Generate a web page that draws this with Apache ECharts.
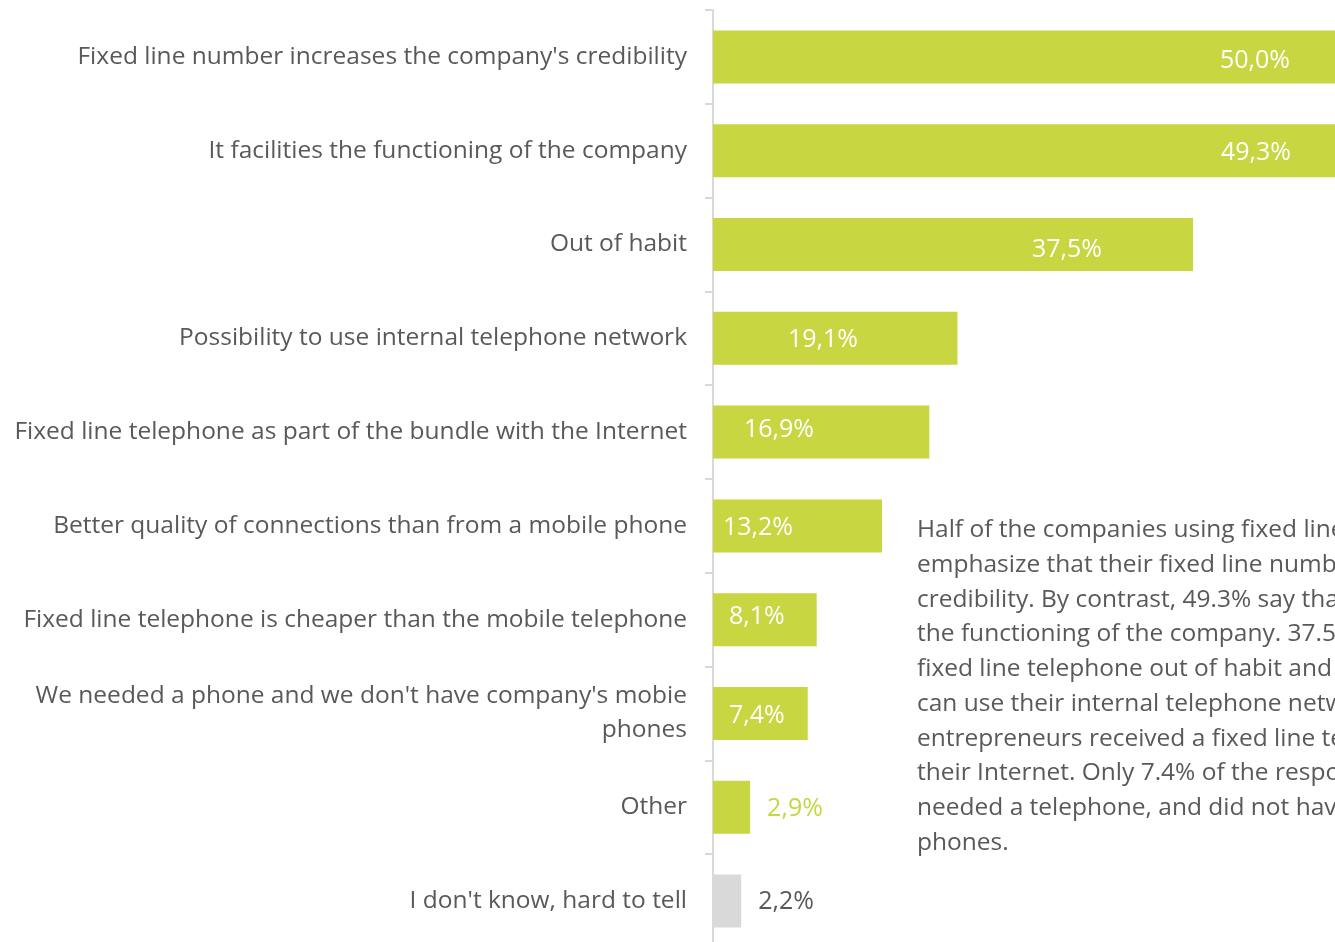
<!DOCTYPE html>
<html>
<head>
<meta charset="utf-8">
<script src="https://cdn.jsdelivr.net/npm/echarts@6/dist/echarts.min.js"></script>
<style>
  html, body { margin: 0; padding: 0; background: #fff; overflow: hidden; }
  /* the plot runs a little past the window on the right and bottom */
  #chart { width: 1353px; height: 948px; }
</style>
</head>
<body>
<div id="chart"></div>
<script>
// Reasons for keeping a fixed line telephone (share of companies, %)
const categories = [
  "Fixed line number increases the company's credibility",
  "It facilities the functioning of the company",
  "Out of habit",
  "Possibility to use internal telephone network",
  "Fixed line telephone as part of the bundle with the Internet",
  "Better quality of connections than from a mobile phone",
  "Fixed line telephone is cheaper than the mobile telephone",
  "We needed a phone and we don't have company's mobie\nphones",
  "Other",
  "I don't know, hard to tell"
];
const values = [50.0, 49.3, 37.5, 19.1, 16.9, 13.2, 8.1, 7.4, 2.9, 2.2];

const commentLines = [
  "Half of the companies using fixed line telephones",
  "emphasize that their fixed line number increases their",
  "credibility. By contrast, 49.3% say that it facilitates",
  "the functioning of the company. 37.5% use a",
  "fixed line telephone out of habit and 19.1% because they",
  "can use their internal telephone network. 16.9% of",
  "entrepreneurs received a fixed line telephone as part of",
  "their Internet. Only 7.4% of the respondents said they",
  "needed a telephone, and did not have company's mobile",
  "phones."
];

const GREEN = '#c8d642';
const GREY_BAR = '#d9d9d9';
const TEXT = '#595959';
const FONT = '"Open Sans", sans-serif';

// label placement per bar: [dx, dy] from the bar start; 'out' = beside the bar end
const labelPlacement = [
  [507, 4], [508, 2], [319, 5], [75, 2], [31, -2],
  [10, 2], [16, -3], [16, 2], 'out', 'out'
];

const fmt = v => v.toFixed(1).replace('.', ',') + '%';

const seriesData = values.map((v, i) => {
  const isUnknown = i === values.length - 1;
  const p = labelPlacement[i];
  let label;
  if (p === 'out') {
    label = {
      position: 'right', distance: 17, offset: [0, isUnknown ? 1 : 2],
      color: isUnknown ? TEXT : GREEN
    };
  } else {
    label = { position: 'insideLeft', distance: 0, offset: p, color: '#ffffff' };
  }
  return {
    value: v,
    itemStyle: { color: isUnknown ? GREY_BAR : GREEN },
    label: label
  };
});

const chart = echarts.init(document.getElementById('chart'), null, { renderer: 'canvas' });
chart.setOption({
  animation: false,
  backgroundColor: '#ffffff',
  grid: { left: 713, top: 10, right: 0, bottom: 0, containLabel: false },
  xAxis: {
    type: 'value', min: 0, max: 50,
    show: false
  },
  yAxis: {
    type: 'category',
    inverse: true,
    data: categories,
    axisLine: { show: true, lineStyle: { color: '#d9d9d9', width: 2 } },
    axisTick: { show: true, length: 8, lineStyle: { color: '#d9d9d9', width: 2 } },
    axisLabel: {
      margin: 26, fontSize: 24.5, color: TEXT, fontFamily: FONT,
      align: 'right', lineHeight: 34, padding: [4, 0, 0, 0]
    },
    splitLine: { show: false }
  },
  series: [{
    type: 'bar',
    barWidth: 53,
    data: seriesData,
    label: {
      show: true, fontSize: 25, fontFamily: FONT,
      formatter: p => fmt(p.value)
    }
  }],
  graphic: [{
    type: 'text',
    left: 917, top: 513,
    style: {
      text: commentLines.join('\n'),
      font: '24.5px ' + FONT,
      fill: TEXT,
      lineHeight: 34.7
    }
  }]
});
</script>
</body>
</html>
